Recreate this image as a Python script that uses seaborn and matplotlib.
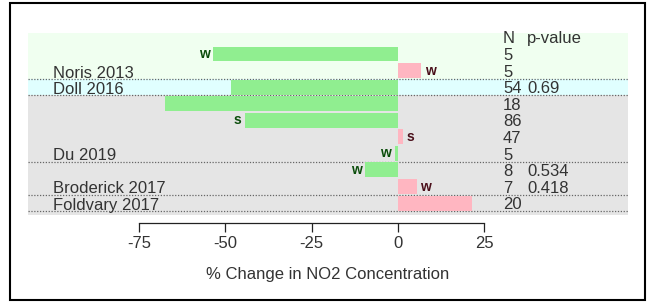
import matplotlib
matplotlib.use('Agg')
import matplotlib.pyplot as plt
import seaborn as sns
import pandas as pd
from matplotlib.patches import Rectangle

# one entry per row, top to bottom
studies = ['', 'Noris 2013', 'Doll 2016', '', '', '', 'Du 2019', '', 'Broderick 2017', 'Foldvary 2017']
change = [-53.5, 6.7, -48.5, -67.5, -44.3, 1.5, -1, -9.5, 5.5, 21.4]
season = ['w', 'w', '', '', 's', 's', 'w', 'w', 'w', '']
n_obs = [5, 5, 54, 18, 86, 47, 5, 8, 7, 20]
p_values = ['', '', '0.69', '', '', '', '', '0.534', '0.418', '']

# background bands (first row, last row, colour) and dotted separators (after row)
bands = [(-1, 1, '#f0fff0'), (2, 2, '#e0ffff'), (3, 9, '#e5e5e5')]
separators = [1, 2, 6, 8, 9]
xticks = [-75, -50, -25, 0, 25]

sns.set_theme(style='white')
plt.rcParams['font.family'] = ['Liberation Sans', 'DejaVu Sans']
txt = '#333333'

fig = plt.figure(figsize=(6.5, 3.02), dpi=100)
ax = fig.add_axes([28 / 650, 87 / 302, 600 / 650, 182 / 302])

rows = [str(i) for i in range(len(change))]
df = pd.DataFrame({'row': rows, 'change': change,
                   'dir': ['neg' if v < 0 else 'pos' for v in change]})
sns.barplot(data=df, x='change', y='row', hue='dir', order=rows,
            palette={'neg': '#90ee90', 'pos': '#ffb6c1'}, dodge=False,
            width=0.9, saturation=1, legend=False, ax=ax, zorder=2,
            linewidth=0, edgecolor='none')

ax.set_xlim(-107.2, 66.6)
ax.set_ylim(9.72, -1.265)

for first, last, col in bands:
    lo = -1.265 if first == -1 else first - 0.5
    hi = 9.72 if last == 9 else last + 0.5
    ax.axhspan(lo, hi, color=col, zorder=0, lw=0)
for s in separators:
    ax.axhline(s + 0.5, color='#666666', lw=0.9, ls=(0, (1, 1.3)), zorder=1)

off = 1.0
for i, (v, lab) in enumerate(zip(change, season)):
    if not lab:
        continue
    if v < 0:
        ax.text(v - off, i, lab, ha='right', va='center', fontsize=10,
                fontweight='bold', color='#0b4d0b', zorder=3)
    else:
        ax.text(v + off, i, lab, ha='left', va='center', fontsize=10,
                fontweight='bold', color='#4a0f1a', zorder=3)

for i, name in enumerate(studies):
    if name:
        ax.text(-99.9, i + 0.15, name, ha='left', va='center', fontsize=12, color=txt, zorder=3)

ax.text(30.4, -0.95, 'N', ha='left', va='center', fontsize=12, color=txt)
ax.text(37.4, -0.95, 'p-value', ha='left', va='center', fontsize=12, color=txt)
for i, (n, p) in enumerate(zip(n_obs, p_values)):
    ax.text(30.4, i + 0.1, str(n), ha='left', va='center', fontsize=12, color=txt, zorder=3)
    if p:
        ax.text(37.4, i + 0.1, p, ha='left', va='center', fontsize=12, color=txt, zorder=3)

for side in ['top', 'right', 'left']:
    ax.spines[side].set_visible(False)
ax.spines['bottom'].set_position(('outward', 5.8))
ax.spines['bottom'].set_bounds(xticks[0], xticks[-1])
ax.spines['bottom'].set_color('#222222')
ax.spines['bottom'].set_linewidth(0.9)
ax.set_xticks(xticks)
ax.set_xticklabels([str(t) for t in xticks])
ax.tick_params(axis='x', direction='out', length=6.5, width=0.9, pad=3, labelsize=12,
               colors='#222222', labelcolor=txt, bottom=True)
ax.set_yticks([])
ax.set_ylabel('')
ax.set_xlabel('% Change in NO2 Concentration', fontsize=12, color=txt)
ax.xaxis.set_label_coords(0.5, -0.286)
ax.xaxis.label.set_va('top')

fig.add_artist(Rectangle((10 / 650, 2 / 302), 635 / 650, 297 / 302, transform=fig.transFigure,
                         fill=False, lw=1.5, ec='black'))

fig.savefig('out.png', dpi=100, facecolor='white')
